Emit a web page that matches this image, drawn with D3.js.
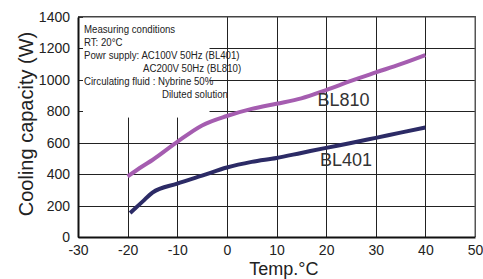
<!DOCTYPE html>
<html>
<head>
<meta charset="utf-8">
<script src="https://cdn.jsdelivr.net/npm/d3@7"></script>
<style>
  body { margin: 0; background: #fff; }
  svg { display: block; font-family: "Liberation Sans", Arial, sans-serif; }
</style>
</head>
<body>
<svg id="chart" width="483" height="279"></svg>
<script>
// temperature (°C) / cooling capacity (W)
const bl810Temp = [-20, -17, -15, -10, -5, 0, 5, 10, 15, 20, 25, 30, 35, 40];
const bl810Cap  = [385, 450, 490, 605, 710, 770, 815, 848, 882, 935, 993, 1047, 1100, 1158];
const bl401Temp = [-19.5, -17, -15, -10, -5, 0, 5, 10, 15, 20, 25, 30, 35, 40];
const bl401Cap  = [153, 225, 283, 340, 390, 442, 478, 503, 535, 567, 598, 631, 664, 697];

const xTicks = [-30, -20, -10, 0, 10, 20, 30, 40, 50];
const yTicks = [0, 200, 400, 600, 800, 1000, 1200, 1400];

const noteLines = [
  "Measuring conditions",
  "RT: 20°C",
  "Powr supply: AC100V 50Hz (BL401)",
  "AC200V 50Hz (BL810)",
  "Circulating fluid : Nybrine 50%",
  "Diluted solution"
];

const margin = {top: 17, right: 8, bottom: 42, left: 78};
const width = 483 - margin.left - margin.right;
const height = 279 - margin.top - margin.bottom;

const svg = d3.select('#chart')
  .append('g')
  .attr('transform', 'translate(' + margin.left + ',' + margin.top + ')');

const x = d3.scaleLinear().domain([-30, 50]).range([0, width]);
const y = d3.scaleLinear().domain([0, 1400]).range([height, 0]);

// GRID - 1px rects snapped to the pixel grid
svg.append('g')
  .selectAll('rect')
  .data(xTicks.slice(1, -1))
  .join('rect')
  .attr('x', d => Math.round(x(d)))
  .attr('y', 0)
  .attr('width', 1)
  .attr('height', height)
  .attr('fill', '#222');
svg.append('g')
  .selectAll('rect')
  .data(yTicks.slice(1, -1))
  .join('rect')
  .attr('x', 0)
  .attr('y', d => Math.round(y(d)))
  .attr('width', width)
  .attr('height', 1)
  .attr('fill', '#222');

// conditions box (white, hides grid)
const box = svg.append('g');
box.append('rect')
  .attr('x', 0).attr('y', 0)
  .attr('width', x(-3.5)).attr('height', y(760))
  .attr('fill', '#fff');

// inner ticks on left axis
svg.append('g')
  .selectAll('rect')
  .data(yTicks)
  .join('rect')
  .attr('x', 0).attr('width', 5)
  .attr('y', d => Math.round(y(d))).attr('height', 1)
  .attr('fill', '#222');

// narrow text: squeeze horizontally
const squeeze = 0.84;
const noteX = [6, 6, 6, 65, 6, 84];
box.append('g')
  .attr('transform', 'scale(' + squeeze + ',1)')
  .selectAll('text')
  .data(noteLines)
  .join('text')
  .attr('x', (d, i) => noteX[i] / squeeze)
  .attr('y', (d, i) => 16.5 + i * 13)
  .attr('font-size', '11.5px')
  .attr('fill', '#222')
  .text(d => d);

// FRAME
svg.append('rect').attr('x', 0).attr('y', -1).attr('width', width).attr('height', 1.5)
  .attr('fill', '#444');
svg.append('rect').attr('x', width - 0.5).attr('y', -1).attr('width', 1.5).attr('height', height + 1)
  .attr('fill', '#555');

// AXES
const xAxis = svg.append('g')
  .attr('transform', 'translate(0,' + height + ')')
  .call(d3.axisBottom(x).tickValues(xTicks).tickSize(0).tickPadding(8).tickFormat(d => String(d)));
const yAxis = svg.append('g')
  .call(d3.axisLeft(y).tickValues(yTicks).tickSize(0).tickPadding(8).tickFormat(d => String(d)));
[xAxis, yAxis].forEach(a => {
  a.select('.domain').attr('stroke', '#111').attr('stroke-width', 2);
  a.selectAll('text').attr('font-size', '14px').attr('fill', '#222')
    .attr('font-family', '"Liberation Sans", Arial, sans-serif');
});

// LINES
const line = d3.line()
  .x(d => x(d[0]))
  .y(d => y(d[1]))
  .curve(d3.curveMonotoneX);

svg.append('path')
  .datum(d3.zip(bl810Temp, bl810Cap))
  .attr('fill', 'none')
  .attr('stroke', '#a55db0')
  .attr('stroke-width', 4)
  .attr('d', line);
svg.append('path')
  .datum(d3.zip(bl401Temp, bl401Cap))
  .attr('fill', 'none')
  .attr('stroke', '#2c2b66')
  .attr('stroke-width', 4)
  .attr('d', line);

// series labels
svg.append('text')
  .attr('x', x(23.5)).attr('y', y(832))
  .attr('text-anchor', 'middle')
  .attr('font-size', '18px').attr('fill', '#333')
  .text('BL810');
svg.append('text')
  .attr('x', x(24)).attr('y', y(450))
  .attr('text-anchor', 'middle')
  .attr('font-size', '18px').attr('fill', '#333')
  .text('BL401');

// AXIS TITLES
svg.append('text')
  .attr('transform', 'translate(' + (-45) + ',' + (y(700) - 3) + ') rotate(-90)')
  .attr('text-anchor', 'middle')
  .attr('font-size', '20px').attr('fill', '#222')
  .text('Cooling capacity (W)');
svg.append('text')
  .attr('x', x(11.5)).attr('y', height + 38)
  .attr('text-anchor', 'middle')
  .attr('font-size', '18px').attr('fill', '#222')
  .text('Temp.°C');
</script>
</body>
</html>
